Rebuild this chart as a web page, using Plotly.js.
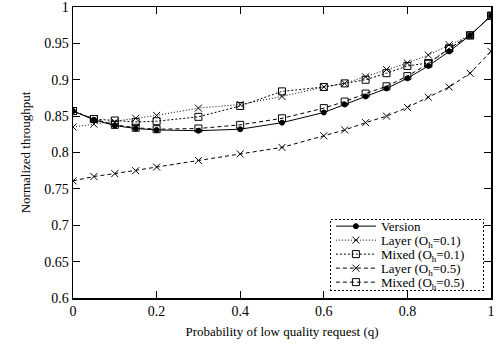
<!DOCTYPE html>
<html>
<head>
<meta charset="utf-8">
<script src="https://cdn.plot.ly/plotly-3.0.1.min.js"></script>
<style>html,body{margin:0;padding:0;background:#fff;}#chart{width:496px;height:348px;}</style>
</head>
<body>
<div id="chart"></div>
<script>
const q = [0, 0.05, 0.1, 0.15, 0.2, 0.3, 0.4, 0.5, 0.6, 0.65, 0.7, 0.75, 0.8, 0.85, 0.9, 0.95, 1];
const version   = [0.857, 0.845, 0.837, 0.833, 0.831, 0.830, 0.832, 0.841, 0.855, 0.866, 0.877, 0.888, 0.902, 0.919, 0.939, 0.961, 0.988];
const layer01   = [0.835, 0.839, 0.842, 0.847, 0.851, 0.861, 0.866, 0.877, 0.890, 0.895, 0.904, 0.914, 0.923, 0.934, 0.948, 0.961, 0.988];
const mixed01   = [0.857, 0.846, 0.844, 0.842, 0.843, 0.849, 0.864, 0.884, 0.890, 0.895, 0.900, 0.909, 0.919, 0.923, 0.943, 0.961, 0.988];
const layer05   = [0.761, 0.767, 0.771, 0.775, 0.780, 0.789, 0.798, 0.807, 0.823, 0.831, 0.841, 0.850, 0.862, 0.876, 0.890, 0.909, 0.939];
const mixed05   = [0.857, 0.846, 0.838, 0.834, 0.832, 0.833, 0.838, 0.847, 0.861, 0.870, 0.881, 0.891, 0.905, 0.922, 0.943, 0.961, 0.988];
const names = ['Version', 'Layer (O<sub>h</sub>=0.1)', 'Mixed (O<sub>h</sub>=0.1)', 'Layer (O<sub>h</sub>=0.5)', 'Mixed (O<sub>h</sub>=0.5)'];
const xTicks = [0, 0.2, 0.4, 0.6, 0.8, 1];
const xTickText = ['0', '0.2', '0.4', '0.6', '0.8', '1'];
const yTicks = [0.6, 0.65, 0.7, 0.75, 0.8, 0.85, 0.9, 0.95, 1];
const yTickText = ['0.6', '0.65', '0.7', '0.75', '0.8', '0.85', '0.9', '0.95', '1'];

const series = [version, layer01, mixed01, layer05, mixed05];
const dashes = ['solid', '1px,2px', '2px,2px', '4px,3px', '4px,3px'];
const symbols = ['circle', 'x-thin-open', 'square-open', 'x-thin-open', 'square-open'];
const traces = series.map((ys, i) => ({
  x: q, y: ys, name: names[i], type: 'scatter', mode: 'lines+markers',
  line: {color: '#000', width: 1, dash: dashes[i]},
  marker: {symbol: symbols[i], size: symbols[i] === 'circle' ? 5 : 7, color: '#000', line: {color: '#000', width: 1}}
}));

const font = {family: '"Liberation Serif", "Times New Roman", serif', color: '#000'};
const layout = {
  width: 496, height: 348,
  margin: {l: 73, r: 5, t: 7, b: 50},
  paper_bgcolor: '#fff', plot_bgcolor: '#fff',
  font: Object.assign({size: 13}, font),
  showlegend: true,
  legend: {
    x: 0.617, y: 0.271, xanchor: 'left', yanchor: 'top',
    bgcolor: '#fff', borderwidth: 0, itemwidth: 40,
    font: Object.assign({size: 13}, font),
    tracegroupgap: 0
  },
  xaxis: {
    range: [0, 1], tickvals: xTicks, ticktext: xTickText,
    ticks: 'inside', ticklen: 7, tickwidth: 1, tickcolor: '#000',
    showline: true, linecolor: '#000', linewidth: 1.5, mirror: 'ticks',
    showgrid: false, zeroline: false, ticklabeloverflow: 'allow',
    tickfont: Object.assign({size: 14}, font),
    title: {text: 'Probability of low quality request (q)', font: Object.assign({size: 13}, font), standoff: 8}
  },
  yaxis: {
    range: [0.6, 1], tickvals: yTicks, ticktext: yTickText,
    ticks: 'inside', ticklen: 7, tickwidth: 1, tickcolor: '#000',
    showline: true, linecolor: '#000', linewidth: 1.5, mirror: 'ticks',
    showgrid: false, zeroline: false, ticklabeloverflow: 'allow',
    tickfont: Object.assign({size: 14}, font),
    title: {text: 'Normalized throughput', font: Object.assign({size: 13}, font), standoff: 10}
  }
};
Plotly.newPlot('chart', traces, layout, {displayModeBar: false, staticPlot: true}).then(() => {
  const items = document.querySelectorAll('.legend .traces');
  items.forEach((el, i) => {
    const t = el.getAttribute('transform') || '';
    const m = t.match(/translate\(\s*([-\d.]+)/);
    const tx = m ? parseFloat(m[1]) : 0;
    el.setAttribute('transform', 'translate(' + tx + ',' + (7 + i * 14) + ')');
  });
  const lg = document.querySelector('.legend .bg');
  if (lg) {
    lg.setAttribute('height', 71);
    lg.setAttribute('width', 153);
    lg.style.stroke = '#000'; lg.style.strokeWidth = '1px'; lg.style.strokeDasharray = '2,2';
  }
  document.querySelectorAll('.legend clipPath rect, .legendclip rect').forEach(r => { r.setAttribute('height', 71); r.setAttribute('width', 153); });
});
</script>
</body>
</html>
